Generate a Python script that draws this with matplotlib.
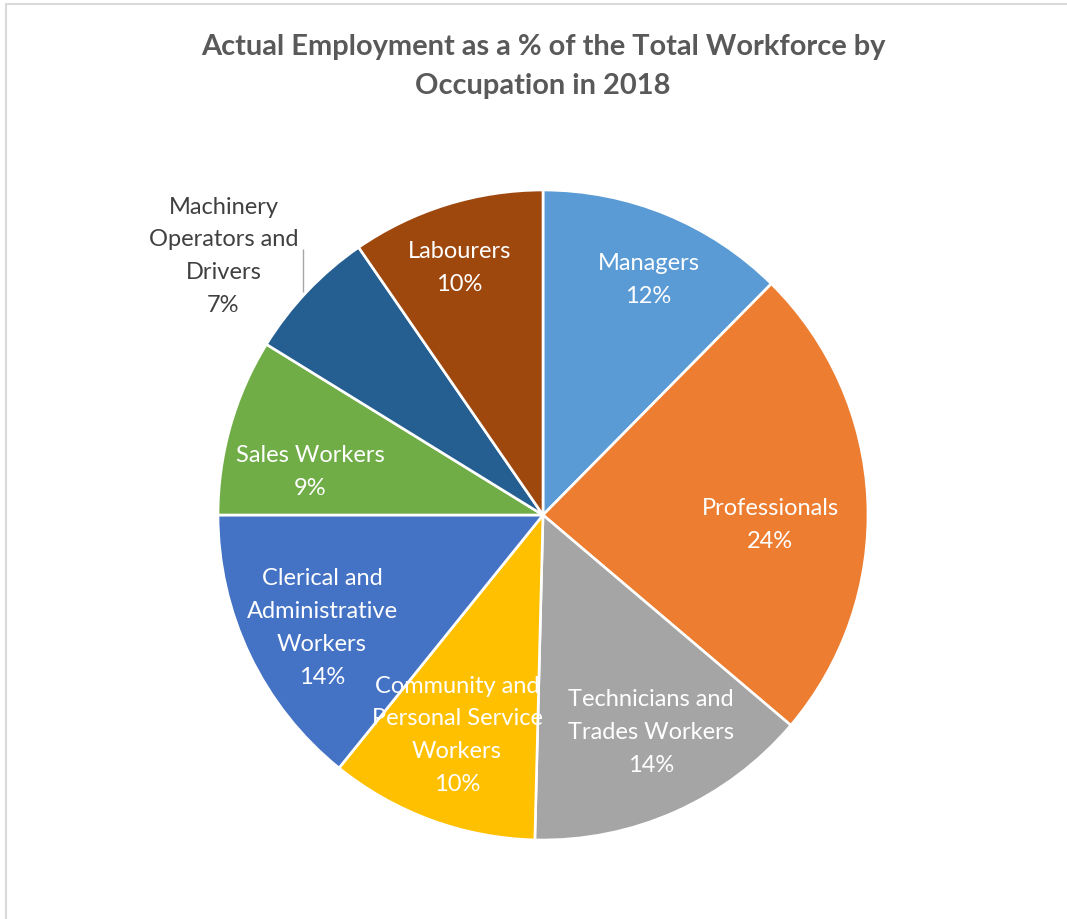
import numpy as np
import matplotlib
matplotlib.use("Agg")
import matplotlib.pyplot as plt
from matplotlib.patches import Rectangle

# data
categories = ["Managers", "Professionals", "Technicians and\nTrades Workers",
              "Community and\nPersonal Service\nWorkers",
              "Clerical and\nAdministrative\nWorkers", "Sales Workers",
              "Machinery\nOperators and\nDrivers", "Labourers"]
shares = [12.4, 23.8, 14.2, 10.4, 14.2, 8.8, 6.6, 9.6]
colors = ["#5B9BD5", "#ED7D31", "#A5A5A5", "#FFC000",
          "#4472C4", "#70AD47", "#255E91", "#9E480E"]
label_dist = [0.80, 0.70, 0.74, 0.72, 0.76, 0.73, 1.27, 0.81]
label_turn = [-1.6, -4.5, 2.6, -1.4, 1.0, 4.8, 4.3, 1.2]   # degrees, ccw
title = "Actual Employment as a % of the Total Workforce by\nOccupation in 2018"

plt.rcParams['font.family'] = ['Lato', 'DejaVu Sans']

W, H = 1067, 919
fig = plt.figure(figsize=(W / 100, H / 100), dpi=100)

# light border around the chart area
fig.patches.append(Rectangle((6 / W, -0.05), 1.2, 1 - 4 / H + 0.05,
                             transform=fig.transFigure, fill=False,
                             edgecolor="#D9D9D9", linewidth=1.5))

cx, cy, R = 543, 515, 325
ax = fig.add_axes([(cx - R) / W, (H - cy - R) / H, 2 * R / W, 2 * R / H])

wedges, _ = ax.pie(shares, colors=colors, startangle=90, counterclock=False,
                   radius=1.0, wedgeprops=dict(edgecolor="white", linewidth=1.9),
                   frame=True)
ax.set_xlim(-1, 1)
ax.set_ylim(-1, 1)
ax.axis("off")

total = sum(shares)
for i, w in enumerate(wedges):
    ang = np.deg2rad((w.theta1 + w.theta2) / 2 + label_turn[i])
    d = label_dist[i]
    x, y = d * np.cos(ang), d * np.sin(ang) - 2.5 / R
    txt = "%s\n%d%%" % (categories[i], round(shares[i] / total * 100))
    col = "white" if d < 1 else "#404040"
    ax.text(x, y, txt, ha="center", va="center", fontsize=17,
            color=col, linespacing=1.69)
    if d >= 1:
        lx = x + 80 / R
        ax.plot([lx, lx], [y + 7 / R, y - 36 / R], color="#A6A6A6",
                linewidth=1.0, solid_capstyle="butt")

fig.text(cx / W, 1 - 66.5 / H, title, ha="center", va="center",
         fontsize=20.9, fontweight="bold", color="#595959", linespacing=1.62)

fig.savefig("out.png", dpi=100)
